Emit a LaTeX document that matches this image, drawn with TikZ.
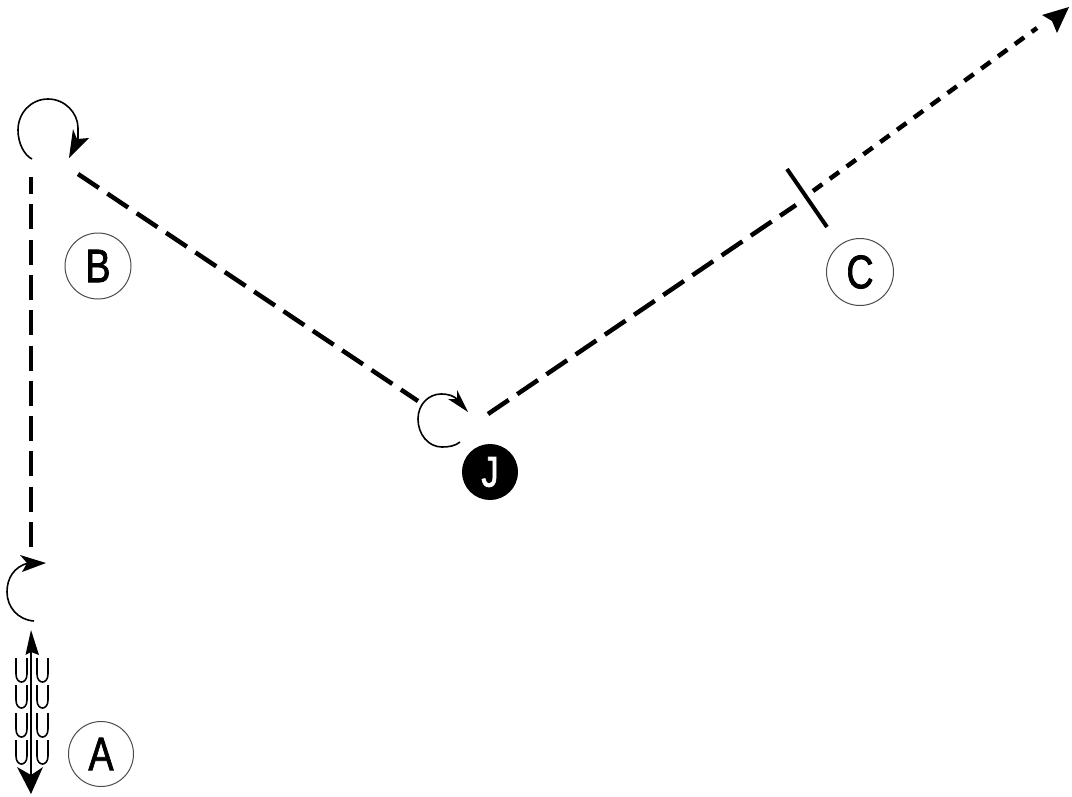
\documentclass[tikz,border=0pt]{standalone}
\usepackage{fontspec}
\setmainfont{Liberation Sans}
\newfontfamily\lblfont[FakeBold=1.8]{Liberation Sans}
\usetikzlibrary{arrows.meta}
\tikzset{
  x=1pt,y=-1pt,
  label disc/.style={circle,draw=black!70,line width=1pt,fill=white,minimum size=#1,inner sep=0pt,outer sep=0pt},
  label text/.style={font=\lblfont\fontsize{47}{47}\selectfont,text=black},
  track/.style={line width=4.5pt,dash pattern=on 25pt off 10.3pt},
  short track/.style={line width=4.5pt,dash pattern=on 11.5pt off 9.3pt},
  loop arrow/.style={line width=1.6pt},
  barb/.style={line width=1.6pt},
  head/.style={fill=black,draw=none}
}
\newcommand{\lbl}[1]{\scalebox{0.8}[1]{#1}}
\begin{document}
\begin{tikzpicture}
\useasboundingbox (0,0) rectangle (1072,796);
\fill[white] (0,0) rectangle (1072,796);

% labels
\node[label disc=65pt,label text] (A) at (101,754) {\lbl{A}};
\node[label disc=66pt,label text] (B) at (98,266) {\lbl{B}};
\node[label disc=67pt,label text] (C) at (860,272) {\lbl{C}};
\node[label disc=55pt,fill=black,draw=black,text=white,font=\lblfont\fontsize{43}{43}\selectfont] (J) at (490,472) {\lbl{J}};

% free ends
\coordinate (vTop) at (31,177);
\coordinate (vEnd) at (31,547.5);
\coordinate (bStart) at (78,174);
\coordinate (bEnd) at (418,401);
\coordinate (jStart) at (488,414);
\coordinate (tickIn) at (796,205);
\coordinate (cStart) at (813,191);
\coordinate (cLast) at (1037,28);
\coordinate (tickA) at (787,169);
\coordinate (tickB) at (827,227);
\coordinate (aTop) at (31,650);
\coordinate (aBot) at (31,775);

% dashed tracks
\draw[track,dash phase=8pt] (vTop) -- (vEnd);
\draw[track] (bStart) -- (bEnd);
\draw[track] (jStart) -- (tickIn);
\draw[short track] (cStart) -- (cLast);
\fill[head] (1042,15) -- (1069,7) -- (1057,33) -- (1052,21) -- cycle;
\draw[line width=4pt] (tickA) -- (tickB);

% rotation arrows
\draw[loop arrow]
  (32,159) .. controls (24,155) and (18,143) .. (18,130)
  .. controls (18,113) and (31,99) .. (48,99)
  .. controls (65,99) and (78,113) .. (78,128)
  -- (78,140);
\fill[head] (73,129) -- (69,158) -- (89,138) -- (77,139) -- cycle;
\draw[loop arrow]
  (34,621) .. controls (18,620) and (7,607) .. (7,592)
  .. controls (7,578) and (14,567) .. (28,563);
\fill[head] (20,555) -- (46,563) -- (22,572) -- (27,563) -- cycle;
\draw[loop arrow]
  (460,442) .. controls (455,446) and (449,447) .. (442,447)
  .. controls (428,447) and (418,434) .. (418,419)
  .. controls (418,404) and (429,394) .. (441,394)
  .. controls (449,394) and (454,396) .. (458,400);
\fill[head] (457,390) -- (468,412) -- (448,399) -- (457,399) -- cycle;

% double arrow and barbs
\draw[line width=1.8pt] (aTop) -- (aBot);
\fill[head] (31,630) -- (39,655) -- (31,652) -- (25.5,655) -- cycle;
\fill[head] (17,767) -- (31,775) -- (43,767) -- (31,794) -- cycle;
\foreach \x in {16,37}{
  \foreach \t/\b in {658/682,685/708,713/737,740/764}{
    \draw[barb] (\x,\t) -- (\x,\b-8)
      .. controls (\x,\b+2.67) and (\x+11,\b+2.67) .. (\x+11,\b-8) -- (\x+11,\t);
  }
}
\end{tikzpicture}
\end{document}
